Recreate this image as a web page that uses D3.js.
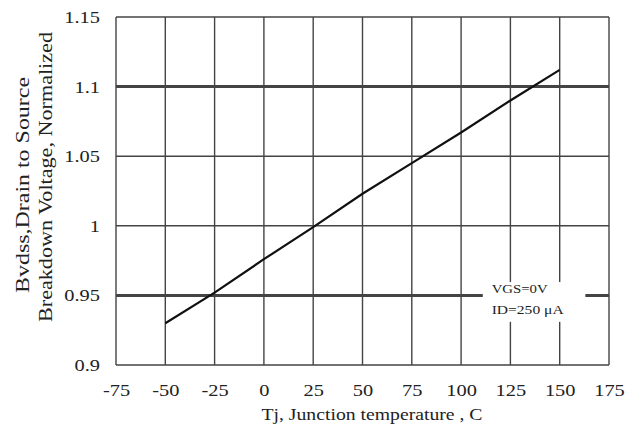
<!DOCTYPE html>
<html>
<head>
<meta charset="utf-8">
<script src="https://cdn.jsdelivr.net/npm/d3@7"></script>
<style>
  body { margin: 0; background: #fff; }
  text { font-family: "Liberation Serif", "DejaVu Serif", serif; fill: #222; }
</style>
</head>
<body>
<div id="chart"></div>
<script>
const temps = [-50, -25, 0, 25, 50, 75, 100, 125, 150];
const bvdss = [0.930, 0.952, 0.976, 0.999, 1.023, 1.045, 1.067, 1.090, 1.112];
const xTicks = [-75, -50, -25, 0, 25, 50, 75, 100, 125, 150, 175];
const yTicks = [0.9, 0.95, 1, 1.05, 1.1, 1.15];
const thickY = [0.95, 1.1];

const W = 634, H = 438;
const margin = { top: 17, right: 25, bottom: 73, left: 116 };
const width = W - margin.left - margin.right;
const height = H - margin.top - margin.bottom;

const svg = d3.select("#chart").append("svg").attr("width", W).attr("height", H);
const g = svg.append("g").attr("transform", "translate(" + margin.left + "," + margin.top + ")");

const x = d3.scaleLinear().domain([-75, 175]).range([0, width]);
const y = d3.scaleLinear().domain([0.9, 1.15]).range([height, 0]);

// grid
g.selectAll(".vgrid").data(xTicks).enter().append("line")
  .attr("x1", d => x(d)).attr("x2", d => x(d))
  .attr("y1", 0).attr("y2", height)
  .attr("stroke", "#444").attr("stroke-width", 1.4);

g.selectAll(".hgrid").data(yTicks).enter().append("line")
  .attr("x1", 0).attr("x2", width)
  .attr("y1", d => y(d)).attr("y2", d => y(d))
  .attr("stroke", "#444")
  .attr("stroke-width", d => thickY.includes(d) ? 3 : 1.4);

// legend box (covers grid)
g.append("rect")
  .attr("x", x(111)).attr("y", y(0.9596))
  .attr("width", x(163) - x(111)).attr("height", y(0.931) - y(0.9596))
  .attr("fill", "#fff");
g.append("text").attr("x", x(115.5)).attr("y", y(0.95) - 2)
  .attr("font-size", 13).attr("textLength", 56).attr("lengthAdjust", "spacingAndGlyphs")
  .text("VGS=0V");
g.append("text").attr("x", x(115.5)).attr("y", y(0.95) + 19)
  .attr("font-size", 13).attr("textLength", 72).attr("lengthAdjust", "spacingAndGlyphs")
  .text("ID=250 μA");

// data line
g.append("path")
  .datum(temps.map((t, i) => [t, bvdss[i]]))
  .attr("fill", "none").attr("stroke", "#111").attr("stroke-width", 2.2)
  .attr("d", d3.line().x(d => x(d[0])).y(d => y(d[1])));

// axes labels
const xAxis = g.append("g").attr("transform", "translate(0," + height + ")")
  .call(d3.axisBottom(x).tickValues(xTicks).tickSize(0).tickPadding(19)
    .tickFormat(d => String(d)));
xAxis.select(".domain").remove();
xAxis.selectAll("text").attr("font-size", 17).attr("font-family", "Liberation Serif").attr("fill", "#222")
  .attr("transform", "scale(1.2,1)");

const yAxis = g.append("g")
  .call(d3.axisLeft(y).tickValues(yTicks).tickSize(0).tickPadding(16)
    .tickFormat(d => String(d)));
yAxis.select(".domain").remove();
yAxis.selectAll("text").attr("font-size", 17).attr("font-family", "Liberation Serif").attr("fill", "#222")
  .attr("transform", "scale(1.2,1)").attr("x", -16 / 1.2);

svg.append("text")
  .attr("x", 372).attr("y", 420)
  .attr("text-anchor", "middle").attr("font-size", 17)
  .attr("textLength", 221).attr("lengthAdjust", "spacingAndGlyphs")
  .text("Tj, Junction temperature , C");

svg.append("text")
  .attr("transform", "translate(29,185) rotate(-90)")
  .attr("text-anchor", "middle").attr("font-size", 19)
  .attr("textLength", 216).attr("lengthAdjust", "spacingAndGlyphs")
  .text("Bvdss,Drain to Source");
svg.append("text")
  .attr("transform", "translate(52,177) rotate(-90)")
  .attr("text-anchor", "middle").attr("font-size", 19)
  .attr("textLength", 290).attr("lengthAdjust", "spacingAndGlyphs")
  .text("Breakdown Voltage, Normalized");
</script>
</body>
</html>
